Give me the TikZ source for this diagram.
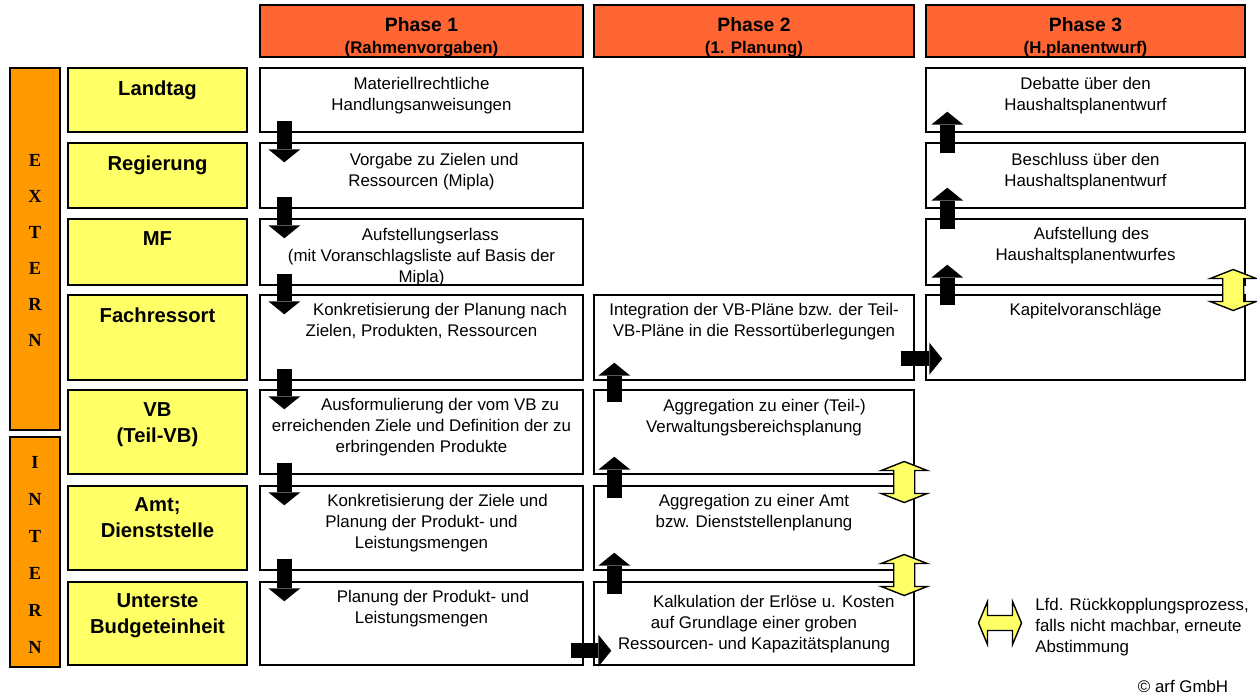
\documentclass[tikz,border=0pt]{standalone}
\usepackage{fontspec}
\setmainfont{Liberation Sans}
\newfontfamily\letterfont{Liberation Serif}
\usepackage{tikz}
\usetikzlibrary{arrows.meta,positioning,fit,calc}
\definecolor{phasered}{RGB}{255,102,51}
\definecolor{sideorange}{RGB}{255,153,0}
\definecolor{unityellow}{RGB}{255,255,102}
\tikzstyle{phasehead} = [rectangle, draw, line width=0.9pt, fill=phasered, inner sep=0pt]
\tikzstyle{sidebar} = [rectangle, draw, line width=0.9pt, fill=sideorange, inner sep=0pt]
\tikzstyle{unitbox} = [rectangle, draw, line width=0.9pt, fill=unityellow, inner sep=0pt]
\tikzstyle{taskbox} = [rectangle, draw, line width=0.8pt, fill=white, inner sep=0pt]
\tikzstyle{headtext} = [inner sep=0pt, align=center, font=\bfseries\fontsize{9.6}{12.5}\selectfont]
\tikzstyle{unittext} = [inner sep=0pt, align=center, font=\bfseries\fontsize{11.5}{14.6}\selectfont]
\tikzstyle{tasktext} = [inner sep=0pt, align=center, font=\fontsize{9.6}{11.9}\selectfont]
\tikzstyle{sidetext} = [inner sep=0pt, font=\letterfont\bfseries\fontsize{10.5}{12}\selectfont]
\tikzstyle{flowarrow} = [line width=0.3cm, -{Triangle[width=0.64cm,length=0.26cm,line width=0pt]}]
\tikzstyle{feedback} = [draw, line width=0.8pt, fill=unityellow, line join=miter]
\tikzset{
  fbvert/.pic={\draw[feedback] (0,-20.5) -- (23,-11.5) -- (10.5,-11.5) -- (10.5,11.5) -- (23,11.5) -- (0,20.5) -- (-23,11.5) -- (-10.5,11.5) -- (-10.5,-11.5) -- (-23,-11.5) -- cycle;},
  fbhoriz/.pic={\draw[feedback] (-21.5,0) -- (-12.5,-21.5) -- (-12.5,-7.5) -- (12.5,-7.5) -- (12.5,-21.5) -- (21.5,0) -- (12.5,21.5) -- (12.5,7.5) -- (-12.5,7.5) -- (-12.5,21.5) -- cycle;}
}

\begin{document}
\begin{tikzpicture}[x=0.02cm, y=-0.02cm]
\useasboundingbox (0,0) rectangle (1257,694);

% Phase headers
\node[phasehead, fit={(260,5) (583,57)}] (h1) {};
\node[phasehead, fit={(594,5) (914,57)}] (h2) {};
\node[phasehead, fit={(926,5) (1245,57)}] (h3) {};
\node[headtext, below=0.25cm of h1.north] (h1t) {{\fontsize{11}{13}\selectfont Phase 1}\\(Rahmenvorgaben)};
\node[headtext, below=0.25cm of h2.north] (h2t) {{\fontsize{11}{13}\selectfont Phase 2}\\(1. Planung)};
\node[headtext, below=0.25cm of h3.north] (h3t) {{\fontsize{11}{13}\selectfont Phase 3}\\(H.planentwurf)};

% Extern / intern bars
\node[sidebar, fit={(10,68) (60,430)}] (extern) {};
\node[sidebar, fit={(10,437) (60,667)}] (intern) {};
\foreach \ch [count=\i] in {E,X,T,E,R,N}
  \node[sidetext] (ex\i) at (35,124+36*\i) {\ch};
\foreach \ch [count=\i] in {I,N,T,E,R,N}
  \node[sidetext] (in\i) at (35,425+37*\i) {\ch};

% Levels
\node[unitbox, fit={(68,68) (247,132)}] (u1) {};
\node[unitbox, fit={(68,143) (247,208)}] (u2) {};
\node[unitbox, fit={(68,219) (247,285)}] (u3) {};
\node[unitbox, fit={(68,295) (247,380)}] (u4) {};
\node[unitbox, fit={(68,390) (247,474)}] (u5) {};
\node[unitbox, fit={(68,486) (247,570)}] (u6) {};
\node[unitbox, fit={(68,582) (247,665)}] (u7) {};
\node[unittext, below=0.26cm of u1.north] (u1t) {Landtag};
\node[unittext, below=0.26cm of u2.north] (u2t) {Regierung};
\node[unittext, below=0.26cm of u3.north] (u3t) {MF};
\node[unittext, below=0.26cm of u4.north] (u4t) {Fachressort};
\node[unittext, below=0.26cm of u5.north] (u5t) {VB\\(Teil-VB)};
\node[unittext, below=0.24cm of u6.north] (u6t) {Amt;\\Dienststelle};
\node[unittext, below=0.24cm of u7.north] (u7t) {Unterste\\Budgeteinheit};

% Phase 1 tasks
\node[taskbox, fit={(260,68) (583,132)}] (p1a) {};
\node[taskbox, fit={(260,143) (583,208)}] (p1b) {};
\node[taskbox, fit={(260,219) (583,285)}] (p1c) {};
\node[taskbox, fit={(260,295) (583,380)}] (p1d) {};
\node[taskbox, fit={(260,390) (583,474)}] (p1e) {};
\node[taskbox, fit={(260,486) (583,570)}] (p1f) {};
\node[taskbox, fit={(260,582) (583,665)}] (p1g) {};
\node[tasktext, below=0.19cm of p1a.north] (p1at) {Materiellrechtliche\\Handlungsanweisungen};
\node[tasktext, below=0.21cm of p1b.north] (p1bt) {\hspace*{1.5em}Vorgabe zu Zielen und\\Ressourcen (Mipla)};
\node[tasktext, below=0.19cm of p1c.north] (p1ct) {\hspace*{1.05em}Aufstellungserlass\\(mit Voranschlagsliste auf Basis der\\Mipla)};
\node[tasktext, below=0.17cm of p1d.north] (p1dt) {\hspace*{2.2em}Konkretisierung der Planung nach\\Zielen, Produkten, Ressourcen};
\node[tasktext, below=0.18cm of p1e.north] (p1et) {\hspace*{2.2em}Ausformulierung der vom VB zu\\erreichenden Ziele und Definition der zu\\erbringenden Produkte};
\node[tasktext, below=0.18cm of p1f.north] (p1ft) {\hspace*{1.9em}Konkretisierung der Ziele und\\Planung der Produkt- und\\Leistungsmengen};
\node[tasktext, below=0.17cm of p1g.north] (p1gt) {\hspace*{1.35em}Planung der Produkt- und\\Leistungsmengen};

% Phase 2 tasks
\node[taskbox, fit={(594,295) (914,380)}] (p2d) {};
\node[taskbox, fit={(594,390) (914,474)}] (p2e) {};
\node[taskbox, fit={(594,486) (914,570)}] (p2f) {};
\node[taskbox, fit={(594,582) (914,665)}] (p2g) {};
\node[tasktext, below=0.17cm of p2d.north] (p2dt) {Integration der VB-Pläne bzw. der Teil-\\VB-Pläne in die Ressortüberlegungen};
\node[tasktext, below=0.19cm of p2e.north] (p2et) {\hspace*{1.25em}Aggregation zu einer (Teil-)\\Verwaltungsbereichsplanung};
\node[tasktext, below=0.18cm of p2f.north] (p2ft) {Aggregation zu einer Amt\\bzw. Dienststellenplanung};
\node[tasktext, below=0.28cm of p2g.north] (p2gt) {\hspace*{2.35em}Kalkulation der Erlöse u. Kosten\\auf Grundlage einer groben\\Ressourcen- und Kapazitätsplanung};

% Phase 3 tasks
\node[taskbox, fit={(926,68) (1245,132)}] (p3a) {};
\node[taskbox, fit={(926,143) (1245,208)}] (p3b) {};
\node[taskbox, fit={(926,219) (1245,285)}] (p3c) {};
\node[taskbox, fit={(926,295) (1245,380)}] (p3d) {};
\node[tasktext, below=0.19cm of p3a.north] (p3at) {Debatte über den\\Haushaltsplanentwurf};
\node[tasktext, below=0.21cm of p3b.north] (p3bt) {Beschluss über den\\Haushaltsplanentwurf};
\node[tasktext, below=0.17cm of p3c.north] (p3ct) {\hspace*{0.7em}Aufstellung des\\Haushaltsplanentwurfes};
\node[tasktext, below=0.18cm of p3d.north] (p3dt) {Kapitelvoranschläge};

% Flow arrows
\foreach \a/\b in {p1a/p1b, p1b/p1c, p1c/p1d, p1d/p1e, p1e/p1f, p1f/p1g}
  \draw[flowarrow] ($(\a.south west)+(25,-12)$) -- ($(\b.north west)+(25,20)$);
\foreach \a/\b in {p2g/p2f, p2f/p2e, p2e/p2d}
  \draw[flowarrow] ($(\a.north west)+(21,13)$) -- ($(\b.south west)+(21,-18)$);
\foreach \a/\b in {p3d/p3c, p3c/p3b, p3b/p3a}
  \draw[flowarrow] ($(\a.north west)+(22,11)$) -- ($(\b.south west)+(22,-21)$);
\draw[flowarrow] ($(p1g.south east)+(-13,-15)$) -- ($(p2g.south west)+(18,-15)$);
\draw[flowarrow] ($(p2d.south east)+(-14,-22)$) -- ($(p3d.south west)+(17,-22)$);

% Feedback loops
\pic at ($(p2e.south east)!0.5!(p2f.north east)+(-10.5,2)$) {fbvert};
\pic at ($(p2f.south east)!0.5!(p2g.north east)+(-10.5,-1)$) {fbvert};
\pic at ($(p3c.south east)!0.5!(p3d.north east)+(-12.5,0)$) {fbvert};

% Legend
\pic at (1000,623) {fbhoriz};
\node[tasktext, anchor=west, align=left] (legend) at (1035,627) {Lfd. Rückkopplungsprozess,\\falls nicht machbar, erneute\\Abstimmung};
\node[tasktext] (copy) at (1183,686) {© arf GmbH};
\end{tikzpicture}
\end{document}
